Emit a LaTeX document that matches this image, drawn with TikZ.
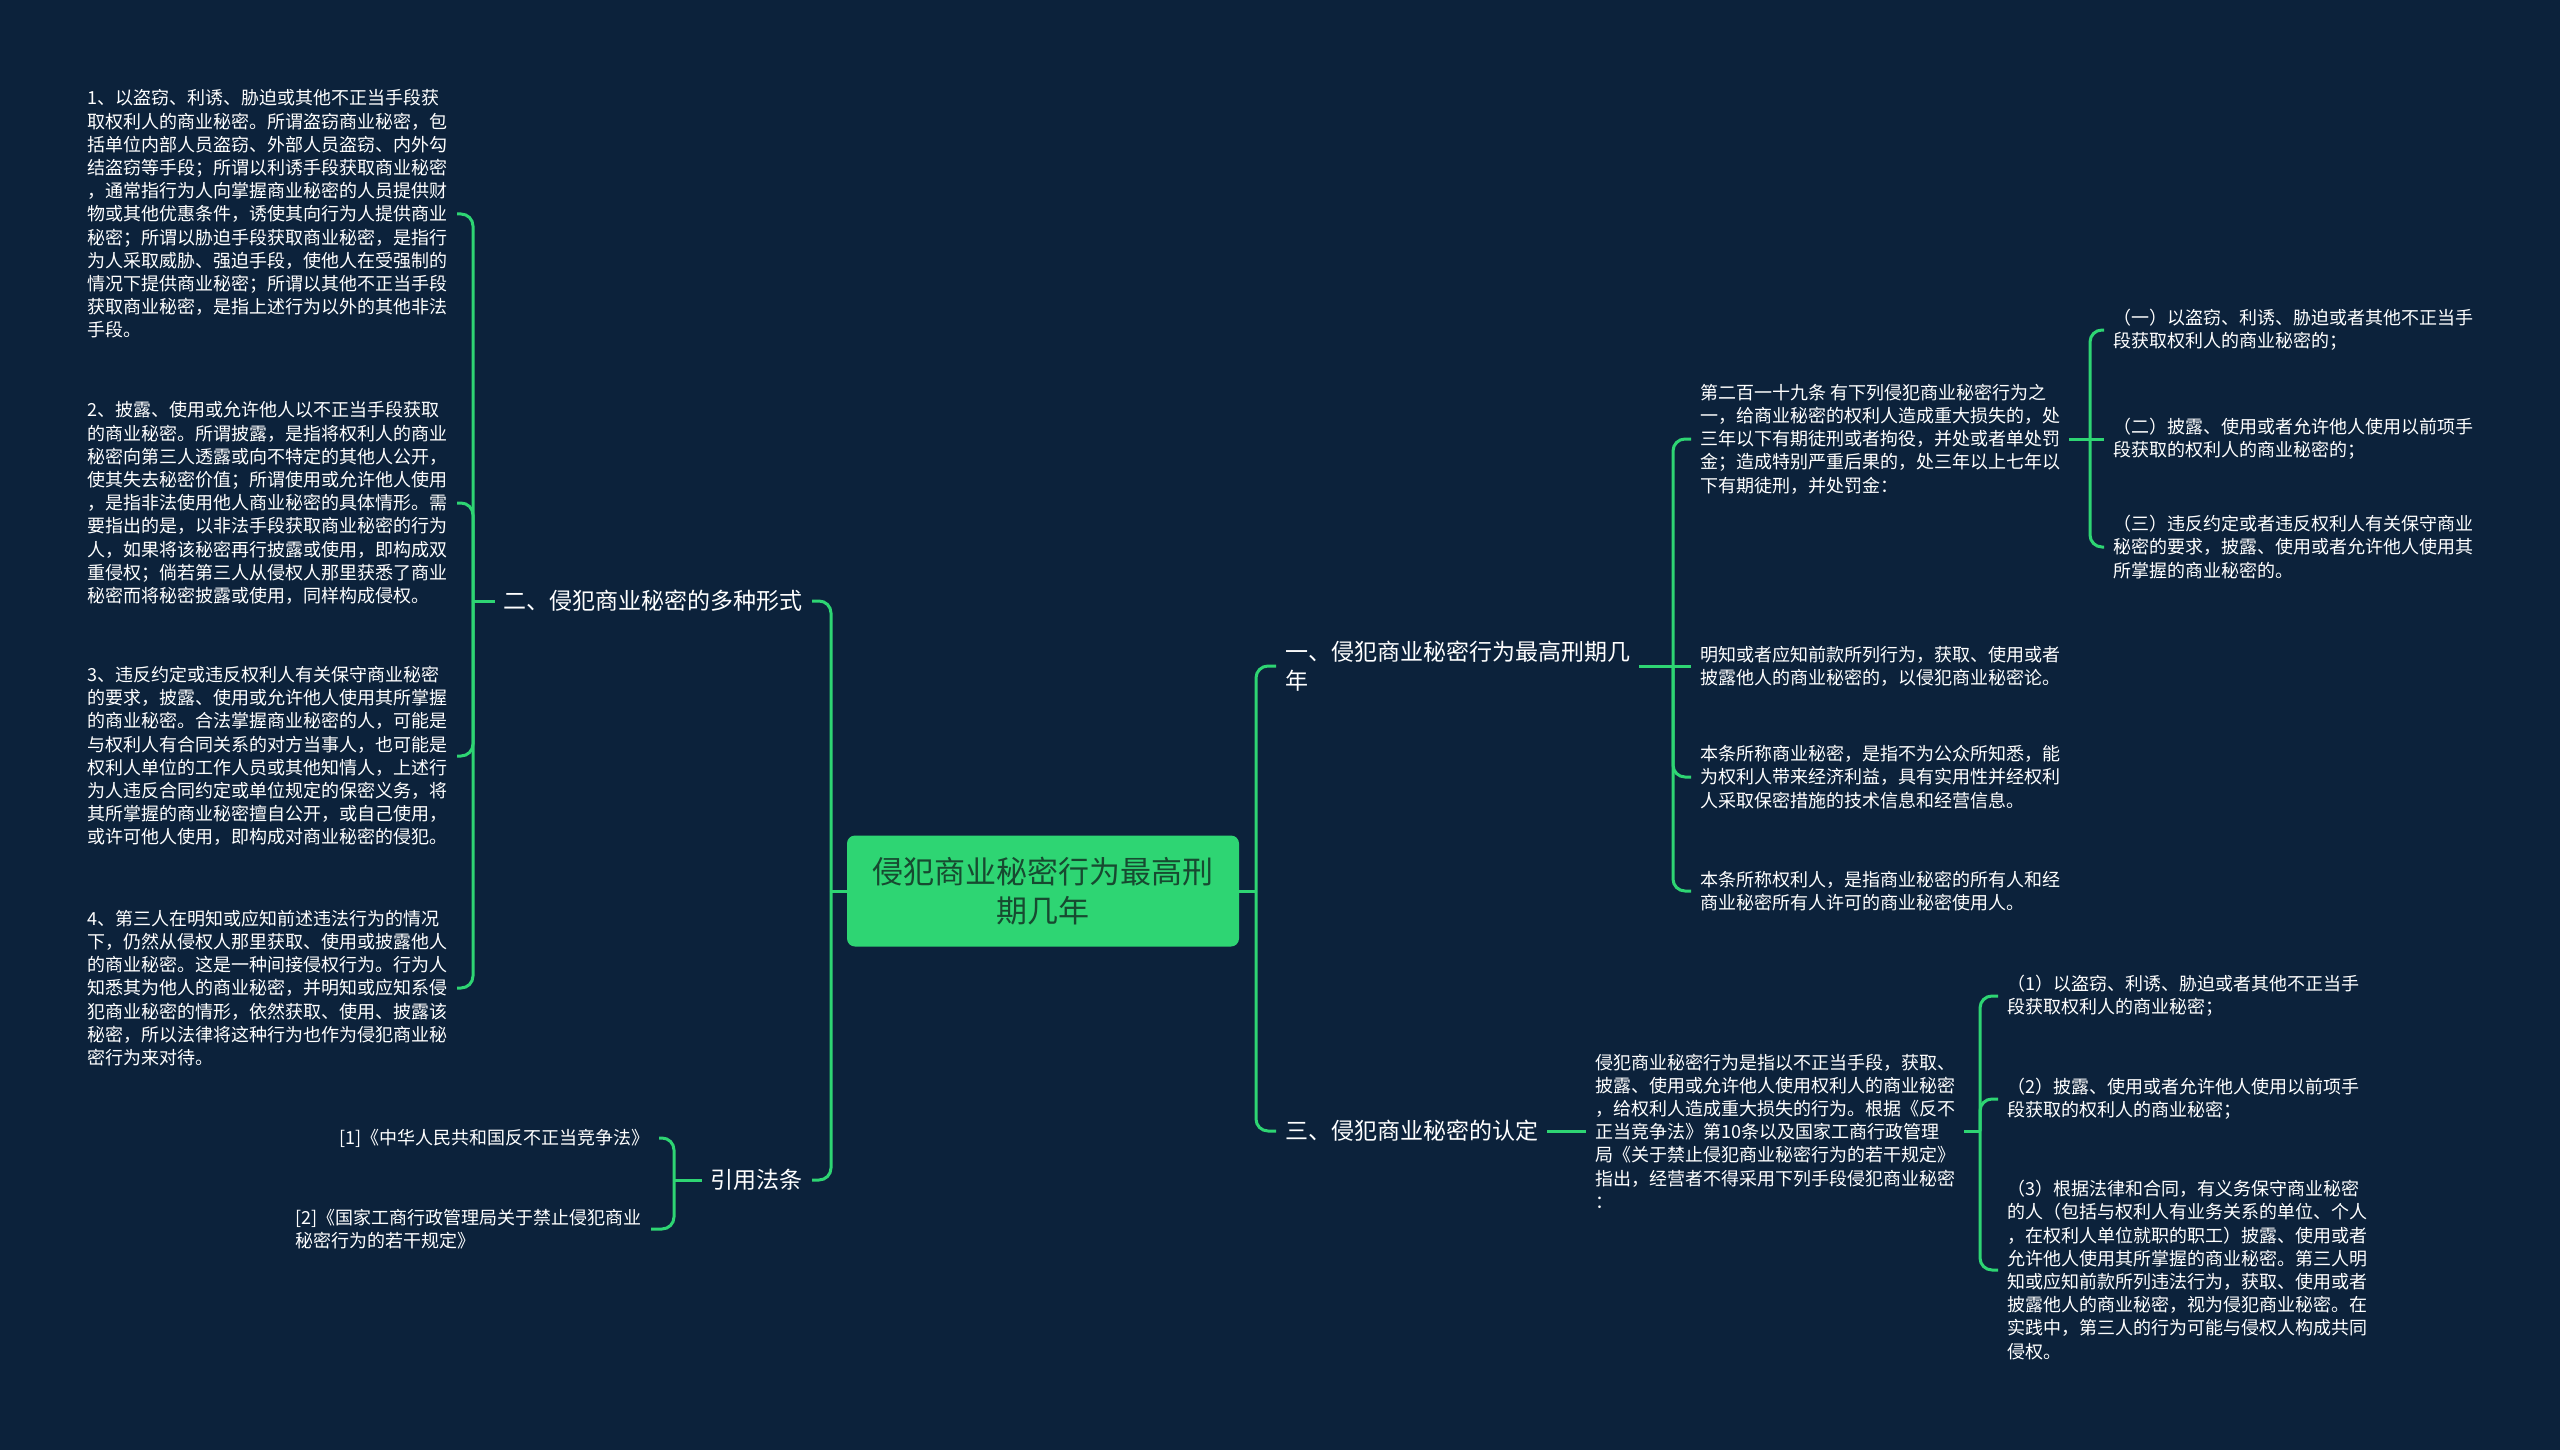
\documentclass[tikz,border=0pt]{standalone}
\usepackage{fontspec}
\setmainfont{Noto Sans CJK SC}
\usepackage{tikz}
\usetikzlibrary{calc}
\definecolor{bgnavy}{HTML}{0C223B}
\definecolor{mapgreen}{HTML}{2ED573}
\definecolor{rootink}{HTML}{174A30}
\tikzset{
  link/.style={draw=mapgreen, line width=3pt, rounded corners=12pt},
  leaf/.style={text=white, align=left, inner xsep=9pt, inner ysep=2pt, font=\fontsize{18}{23.2}\selectfont},
  branch/.style={text=white, align=left, inner xsep=9pt, inner ysep=2pt, font=\fontsize{23}{29.4}\selectfont},
  rootbox/.style={fill=mapgreen, rounded corners=8pt, text=rootink, align=center, minimum width=392pt, minimum height=111pt, font=\fontsize{31}{39}\selectfont}
}
\begin{document}
\begin{tikzpicture}[x=1pt,y=-1pt]
\fill[bgnavy] (0,0) rectangle (2560,1450);
\useasboundingbox (0,0) rectangle (2560,1450);

\node (root) at (1043,891) [rootbox] {侵犯商业秘密行为最高刑\\期几年};

\node (one) at (1276,666) [branch, anchor=west] {一、侵犯商业秘密行为最高刑期几\\年};
\node (three) at (1276,1131) [branch, anchor=west] {三、侵犯商业秘密的认定};
\node (two) at (812,601) [branch, anchor=east] {二、侵犯商业秘密的多种形式};
\node (cite) at (812,1180) [branch, anchor=east] {引用法条};

\node (art) at (1691,439) [leaf, anchor=west] {第二百一十九条 有下列侵犯商业秘密行为之\\一，给商业秘密的权利人造成重大损失的，处\\三年以下有期徒刑或者拘役，并处或者单处罚\\金；造成特别严重后果的，处三年以上七年以\\下有期徒刑，并处罚金：};
\node (know) at (1691,666) [leaf, anchor=west] {明知或者应知前款所列行为，获取、使用或者\\披露他人的商业秘密的，以侵犯商业秘密论。};
\node (secret) at (1691,777) [leaf, anchor=west] {本条所称商业秘密，是指不为公众所知悉，能\\为权利人带来经济利益，具有实用性并经权利\\人采取保密措施的技术信息和经营信息。};
\node (holder) at (1691,891) [leaf, anchor=west] {本条所称权利人，是指商业秘密的所有人和经\\商业秘密所有人许可的商业秘密使用人。};

\node (artA) at (2104,330) [leaf, anchor=west] {（一）以盗窃、利诱、胁迫或者其他不正当手\\段获取权利人的商业秘密的；};
\node (artB) at (2104,439) [leaf, anchor=west] {（二）披露、使用或者允许他人使用以前项手\\段获取的权利人的商业秘密的；};
\node (artC) at (2104,547) [leaf, anchor=west] {（三）违反约定或者违反权利人有关保守商业\\秘密的要求，披露、使用或者允许他人使用其\\所掌握的商业秘密的。};

\node (define) at (1586,1131) [leaf, anchor=west] {侵犯商业秘密行为是指以不正当手段，获取、\\披露、使用或允许他人使用权利人的商业秘密\\，给权利人造成重大损失的行为。根据《反不\\正当竞争法》第10条以及国家工商行政管理\\局《关于禁止侵犯商业秘密行为的若干规定》\\指出，经营者不得采用下列手段侵犯商业秘密\\：};
\node (wayA) at (1998,996) [leaf, anchor=west] {（1）以盗窃、利诱、胁迫或者其他不正当手\\段获取权利人的商业秘密；};
\node (wayB) at (1998,1099) [leaf, anchor=west] {（2）披露、使用或者允许他人使用以前项手\\段获取的权利人的商业秘密；};
\node (wayC) at (1998,1270) [leaf, anchor=west] {（3）根据法律和合同，有义务保守商业秘密\\的人（包括与权利人有业务关系的单位、个人\\，在权利人单位就职的职工）披露、使用或者\\允许他人使用其所掌握的商业秘密。第三人明\\知或应知前款所列违法行为，获取、使用或者\\披露他人的商业秘密，视为侵犯商业秘密。在\\实践中，第三人的行为可能与侵权人构成共同\\侵权。};

\node (formA) at (457,214) [leaf, anchor=east] {1、以盗窃、利诱、胁迫或其他不正当手段获\\取权利人的商业秘密。所谓盗窃商业秘密，包\\括单位内部人员盗窃、外部人员盗窃、内外勾\\结盗窃等手段；所谓以利诱手段获取商业秘密\\，通常指行为人向掌握商业秘密的人员提供财\\物或其他优惠条件，诱使其向行为人提供商业\\秘密；所谓以胁迫手段获取商业秘密，是指行\\为人采取威胁、强迫手段，使他人在受强制的\\情况下提供商业秘密；所谓以其他不正当手段\\获取商业秘密，是指上述行为以外的其他非法\\手段。};
\node (formB) at (457,503) [leaf, anchor=east] {2、披露、使用或允许他人以不正当手段获取\\的商业秘密。所谓披露，是指将权利人的商业\\秘密向第三人透露或向不特定的其他人公开，\\使其失去秘密价值；所谓使用或允许他人使用\\，是指非法使用他人商业秘密的具体情形。需\\要指出的是，以非法手段获取商业秘密的行为\\人，如果将该秘密再行披露或使用，即构成双\\重侵权；倘若第三人从侵权人那里获悉了商业\\秘密而将秘密披露或使用，同样构成侵权。};
\node (formC) at (457,756) [leaf, anchor=east] {3、违反约定或违反权利人有关保守商业秘密\\的要求，披露、使用或允许他人使用其所掌握\\的商业秘密。合法掌握商业秘密的人，可能是\\与权利人有合同关系的对方当事人，也可能是\\权利人单位的工作人员或其他知情人，上述行\\为人违反合同约定或单位规定的保密义务，将\\其所掌握的商业秘密擅自公开，或自己使用，\\或许可他人使用，即构成对商业秘密的侵犯。};
\node (formD) at (457,988) [leaf, anchor=east] {4、第三人在明知或应知前述违法行为的情况\\下，仍然从侵权人那里获取、使用或披露他人\\的商业秘密。这是一种间接侵权行为。行为人\\知悉其为他人的商业秘密，并明知或应知系侵\\犯商业秘密的情形，依然获取、使用、披露该\\秘密，所以法律将这种行为也作为侵犯商业秘\\密行为来对待。};

\node (lawA) at (659,1138) [leaf, anchor=east, align=right] {[1]《中华人民共和国反不正当竞争法》};
\node (lawB) at (651,1229) [leaf, anchor=east] {[2]《国家工商行政管理局关于禁止侵犯商业\\秘密行为的若干规定》};

\coordinate (rootR) at (1256,891); \coordinate (rootL) at (831,891);
\coordinate (oneR) at (1673,666); \coordinate (artR) at (2090,439);
\coordinate (defR) at (1980,1131);
\coordinate (twoL) at (473,601); \coordinate (citeL) at (674,1180);

\draw[link] (root.east) -- (rootR);
\draw[link] (rootR) |- (one.west);
\draw[link] (rootR) |- (three.west);
\draw[link] (root.west) -- (rootL);
\draw[link] (rootL) |- (two.east);
\draw[link] (rootL) |- (cite.east);

\draw[link] (one.east) -- (oneR);
\draw[link] (oneR) |- (art.west);
\draw[link] (oneR) -- (know.west);
\draw[link] (oneR) |- (secret.west);
\draw[link] (oneR) |- (holder.west);

\draw[link] (art.east) -- (artR);
\draw[link] (artR) |- (artA.west);
\draw[link] (artR) -- (artB.west);
\draw[link] (artR) |- (artC.west);

\draw[link] (three.east) -- (define.west);
\draw[link] (define.east) -- (defR);
\draw[link] (defR) |- (wayA.west);
\draw[link] (defR) |- (wayB.west);
\draw[link] (defR) |- (wayC.west);

\draw[link] (two.west) -- (twoL);
\draw[link] (twoL) |- (formA.east);
\draw[link] (twoL) |- (formB.east);
\draw[link] (twoL) |- (formC.east);
\draw[link] (twoL) |- (formD.east);

\draw[link] (cite.west) -- (citeL);
\draw[link] (citeL) |- (lawA.east);
\draw[link] (citeL) |- (lawB.east);
\end{tikzpicture}
\end{document}
